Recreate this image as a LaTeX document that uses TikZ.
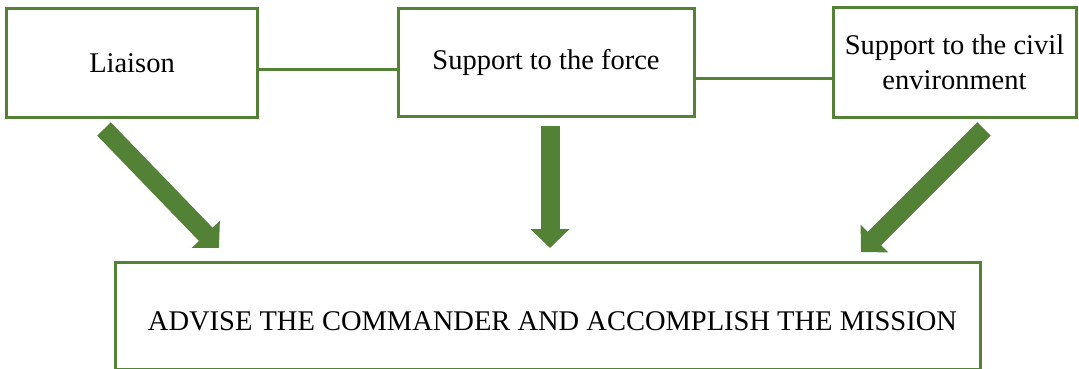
\documentclass[tikz,border=0pt]{standalone}
\usepackage{fontspec}
\setmainfont{Liberation Serif}
\usepackage{tikz}
\usetikzlibrary{arrows.meta}
\definecolor{leaf}{HTML}{538135}
\tikzset{
  task/.style={draw=leaf, line width=3pt, fill=white, align=center, inner sep=0pt,
    font=\fontsize{28.5}{35}\selectfont},
  link/.style={draw=leaf, line width=3pt},
  bigarrow/.style={draw=leaf, line width=19pt,
    -{Triangle[length=19pt, width=38pt]}}
}

\begin{document}
\begin{tikzpicture}[x=1pt, y=-1pt]
\useasboundingbox (0,0) rectangle (1079,369);
\node[task, minimum width=251pt, minimum height=109pt] (liaison) at (132,63) {Liaison};
\node[task, minimum width=296pt, minimum height=108pt] (force) at (546,62.5) {Support to the force};
\node[task, minimum width=243pt, minimum height=109pt] (civil) at (954.5,62.5)
        {Support to the civil\\environment};
\node[task, minimum width=865pt, minimum height=107pt, text height=30pt] (mission) at (547.5,315.5)
        {\hspace{10pt}ADVISE THE COMMANDER AND ACCOMPLISH THE MISSION};
\draw[link] ([yshift=-7pt]liaison.east) -- ([yshift=-7.5pt]force.west);
\draw[link] ([yshift=-16.5pt]force.east) -- ([yshift=-16.5pt]civil.west);
\coordinate (t1) at (104,129);
\coordinate (t2) at (550,126);
\coordinate (t3) at (984,129);
\coordinate (h1) at (219,248);
\coordinate (h2) at (550,248);
\coordinate (h3) at (861,252);
        \draw[bigarrow] (t1) -- (h1);
        \draw[bigarrow] (t2) -- (h2);
        \draw[bigarrow] (t3) -- (h3);
\end{tikzpicture}
\end{document}
